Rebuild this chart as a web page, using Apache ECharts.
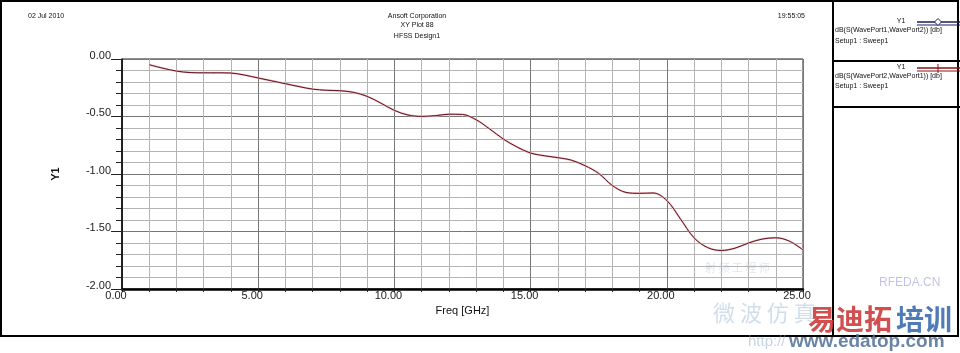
<!DOCTYPE html>
<html><head><meta charset="utf-8">
<script src="https://cdn.jsdelivr.net/npm/echarts@6/dist/echarts.min.js"></script>
<style>html,body{margin:0;padding:0;background:#fff}#c{width:960px;height:353px}</style>
</head><body><div id="c"></div>
<script>
// ---- data ----
const freqGHz = [1.0,1.5,2.0,2.5,3.0,3.5,4.0,4.5,5.0,5.5,6.0,6.5,7.0,7.5,8.0,8.5,9.0,9.5,10.0,10.5,11.0,11.5,12.0,12.5,13.0,13.5,14.0,14.5,15.0,15.5,16.0,16.5,17.0,17.5,18.0,18.5,19.0,19.5,20.0,20.5,21.0,21.5,22.0,22.5,23.0,23.5,24.0,24.5,25.0];
const s21dB = [-0.05,-0.08,-0.105,-0.118,-0.12,-0.12,-0.122,-0.14,-0.165,-0.19,-0.215,-0.24,-0.262,-0.272,-0.276,-0.29,-0.325,-0.383,-0.447,-0.487,-0.499,-0.493,-0.48,-0.482,-0.528,-0.609,-0.696,-0.765,-0.818,-0.841,-0.858,-0.88,-0.928,-0.995,-1.10,-1.16,-1.168,-1.165,-1.23,-1.39,-1.555,-1.64,-1.665,-1.645,-1.60,-1.566,-1.555,-1.584,-1.66];
const s12dB = [-0.05,-0.08,-0.105,-0.118,-0.12,-0.12,-0.122,-0.14,-0.165,-0.19,-0.215,-0.24,-0.262,-0.272,-0.276,-0.29,-0.325,-0.383,-0.447,-0.487,-0.499,-0.493,-0.48,-0.482,-0.528,-0.609,-0.696,-0.765,-0.818,-0.841,-0.858,-0.88,-0.928,-0.995,-1.10,-1.16,-1.168,-1.165,-1.23,-1.39,-1.555,-1.64,-1.665,-1.645,-1.60,-1.566,-1.555,-1.584,-1.66];
const seriesNames = ['dB(S(WavePort1,WavePort2)) [db]','dB(S(WavePort2,WavePort1)) [db]'];
const headerLeft = '02 Jul 2010';
const headerCenter = ['Ansoft Corporation','XY Plot 88','HFSS Design1'];
const headerRight = '19:55:05';
const xTitle = 'Freq [GHz]';
const yTitle = 'Y1';

const FONT = 'Liberation Sans, Arial, sans-serif';
const chart = echarts.init(document.getElementById('c'));
const pts = a => freqGHz.map((f,i)=>[f,a[i]]);
const txt = (x,y,t,opt) => Object.assign({type:'text',x:x,y:y,style:Object.assign({text:t,fill:'#111',font:'7px '+FONT,textVerticalAlign:'middle'},opt||{})});
const ln = (x1,y1,x2,y2,c,w) => ({type:'line',shape:{x1,y1,x2,y2},style:{stroke:c,lineWidth:w}});

chart.setOption({
  animation:false,
  backgroundColor:'#fff',
  grid:{left:122,top:59,right:157,bottom:64,show:true,borderColor:'#222',borderWidth:1},
  xAxis:{type:'value',min:0,max:25,interval:5,
    name:xTitle,nameLocation:'middle',nameGap:16,
    nameTextStyle:{fontFamily:FONT,fontSize:11,color:'#111'},
    axisLine:{onZero:false,lineStyle:{color:'#000',width:2.5}},
    axisTick:{show:true,length:3,lineStyle:{color:'#222'}},
    minorTick:{show:true,splitNumber:5,length:3,lineStyle:{color:'#222'}},
    axisLabel:{formatter:v=>v.toFixed(2),fontFamily:FONT,fontSize:11,color:'#222',margin:1,padding:[0,12,0,0]},
    splitLine:{show:true,lineStyle:{color:'#777',width:1}},
    minorSplitLine:{show:true,lineStyle:{color:'#b4b4b4',width:1}}
  },
  yAxis:{type:'value',min:-2,max:0,interval:0.5,
    name:yTitle,nameLocation:'middle',nameGap:61,nameRotate:90,
    nameTextStyle:{fontFamily:FONT,fontSize:11,fontWeight:'bold',color:'#111'},
    axisLine:{onZero:false,lineStyle:{color:'#000',width:1.5}},
    axisTick:{show:true,length:11,lineStyle:{color:'#222'}},
    minorTick:{show:true,splitNumber:5,length:6,lineStyle:{color:'#222'}},
    axisLabel:{formatter:v=>v.toFixed(2),fontFamily:FONT,fontSize:11,color:'#222',margin:11,verticalAlign:'bottom',padding:[0,0,-2,0]},
    splitLine:{show:true,lineStyle:{color:'#777',width:1}},
    minorSplitLine:{show:true,lineStyle:{color:'#b4b4b4',width:1}}
  },
  series:[
    {name:seriesNames[0],type:'line',data:pts(s21dB),smooth:0.35,showSymbol:false,
     lineStyle:{color:'#f2bcbc',width:2}},
    {name:seriesNames[1],type:'line',data:pts(s12dB),smooth:0.35,showSymbol:false,
     lineStyle:{color:'#5a1020',width:1}}
  ],
  graphic:[
    // outer frame
    {type:'rect',shape:{x:1,y:1,width:957,height:335},style:{fill:null,stroke:'#000',lineWidth:2},silent:true},
    ln(833,0,833,336,'#000',2),
    ln(833,61,960,61,'#000',2),
    ln(833,107,960,107,'#000',2),
    // header
    txt(28,16,headerLeft),
    txt(417,16,headerCenter[0],{textAlign:'center'}),
    txt(417,25,headerCenter[1],{textAlign:'center'}),
    txt(417,36,headerCenter[2],{textAlign:'center'}),
    txt(805,16,headerRight,{textAlign:'right'}),
    // legend 1
    txt(901,21,'Y1',{textAlign:'center'}),
    ln(917,22,960,22,'#1c1c5c',1.5),
    ln(917,25,960,25,'#1c1c5c',1),
    {type:'polygon',shape:{points:[[938,18.5],[941.5,22],[938,25.5],[934.5,22]]},style:{fill:'#fff',stroke:'#1c1c5c',lineWidth:1}},
    txt(835,30,seriesNames[0]),
    txt(835,41,'Setup1 : Sweep1'),
    // legend 2
    txt(901,67,'Y1',{textAlign:'center'}),
    ln(917,68,960,68,'#8a1010',1.5),
    ln(917,71,960,71,'#8a1010',1),
    ln(938,64,938,73,'#8a1010',1),
    txt(835,76,seriesNames[1]),
    txt(835,86,'Setup1 : Sweep1'),
    // watermark
    txt(879,283,'RFEDA.CN',{fill:'rgba(120,120,200,0.45)',font:'12px '+FONT}),
    txt(705,268,'射 频 工 程 师',{fill:'rgba(140,170,200,0.3)',font:'11px Noto Sans CJK SC'}),
    txt(713,313,'微 波 仿 真',{fill:'rgba(120,160,200,0.35)',font:'22px Noto Sans CJK SC'}),
    txt(808,319,'易迪拓',{fill:'rgba(205,60,60,0.9)',font:'bold 28px Noto Sans CJK SC'}),
    txt(896,319,'培训',{fill:'rgba(60,110,175,0.9)',font:'bold 28px Noto Sans CJK SC'}),
    txt(748,342,'http://',{fill:'rgba(130,160,190,0.45)',font:'15px '+FONT}),
    txt(789,342,'www.edatop.com',{fill:'rgba(80,110,150,0.85)',font:'bold 19px '+FONT})
  ]
});
</script></body></html>
